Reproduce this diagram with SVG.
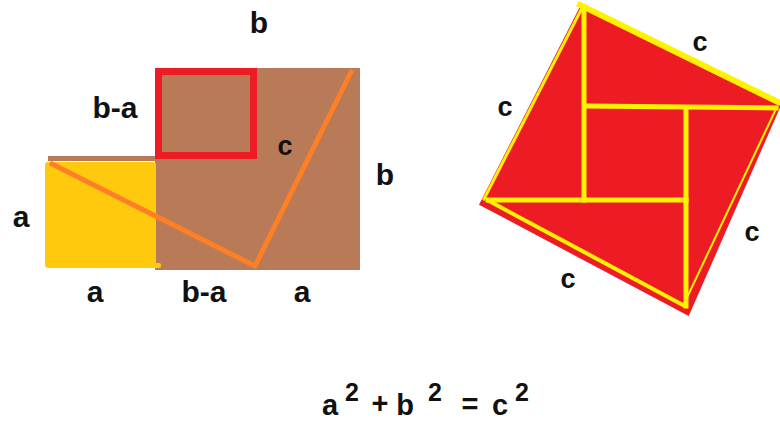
<svg xmlns="http://www.w3.org/2000/svg" width="780" height="421" viewBox="0 0 780 421">
<style>
.lbl{font-family:"Liberation Sans",Arial,sans-serif;font-weight:bold;font-size:30px;fill:#111;text-anchor:middle}
.c{font-size:27px}
.eq{font-size:29px}
.sup{font-size:25px}
.yl{stroke:#FFF200;fill:none;stroke-linecap:square}
</style>
<rect width="780" height="421" fill="#ffffff"/>
<g id="left-figure">
  <rect x="155" y="68" width="205" height="202" fill="#B97A57"/>
  <rect x="48" y="156" width="108" height="5" fill="#B97A57"/>
  <rect x="45" y="162" width="111" height="106" rx="3" fill="#FFC90E"/>
  <rect x="153" y="263" width="8" height="5" rx="2" fill="#FFC90E"/>
  <rect x="158.5" y="71.5" width="95" height="84" fill="none" stroke="#ED1C24" stroke-width="7"/>
  <polyline points="50,163 255,266 352,70" fill="none" stroke="#FF7F27" stroke-width="5" stroke-linejoin="miter"/>
</g>
<g id="right-figure">
  <polygon points="582,6 780,104 688,314 481,204" fill="#ED1C24" stroke="#ED1C24" stroke-width="3"/>
  <line class="yl" x1="580" y1="5" x2="778" y2="102" stroke-width="6"/>
  <line class="yl" x1="582" y1="8" x2="484" y2="199" stroke-width="3"/>
  <line class="yl" x1="489" y1="201" x2="683" y2="305" stroke-width="4"/>
  <line class="yl" x1="775" y1="111" x2="684" y2="304" stroke-width="2"/>
  <line class="yl" x1="584" y1="10" x2="584" y2="200" stroke-width="5"/>
  <line class="yl" x1="587" y1="106" x2="776" y2="108" stroke-width="5"/>
  <line class="yl" x1="686" y1="108" x2="686" y2="306" stroke-width="5"/>
  <line class="yl" x1="488" y1="200" x2="686" y2="200" stroke-width="5"/>
</g>
<g id="labels">
  <text class="lbl" x="259" y="33">b</text>
  <text class="lbl" x="115" y="118">b-a</text>
  <text class="lbl c" x="285" y="155">c</text>
  <text class="lbl" x="385" y="185">b</text>
  <text class="lbl" x="21" y="227">a</text>
  <text class="lbl" x="95" y="302">a</text>
  <text class="lbl" x="204" y="302">b-a</text>
  <text class="lbl" x="302" y="302">a</text>
  <text class="lbl c" x="700" y="51">c</text>
  <text class="lbl c" x="505" y="116">c</text>
  <text class="lbl c" x="752" y="241">c</text>
  <text class="lbl c" x="568" y="288">c</text>
</g>
<g id="equation">
  <text class="lbl eq" x="330" y="415">a</text>
  <text class="lbl sup" x="352" y="401">2</text>
  <text class="lbl eq" x="380" y="413">+</text>
  <text class="lbl eq" x="405" y="415">b</text>
  <text class="lbl sup" x="435" y="401">2</text>
  <text class="lbl eq" x="470" y="414">=</text>
  <text class="lbl eq" x="500" y="415">c</text>
  <text class="lbl sup" x="522" y="401">2</text>
</g>
</svg>
